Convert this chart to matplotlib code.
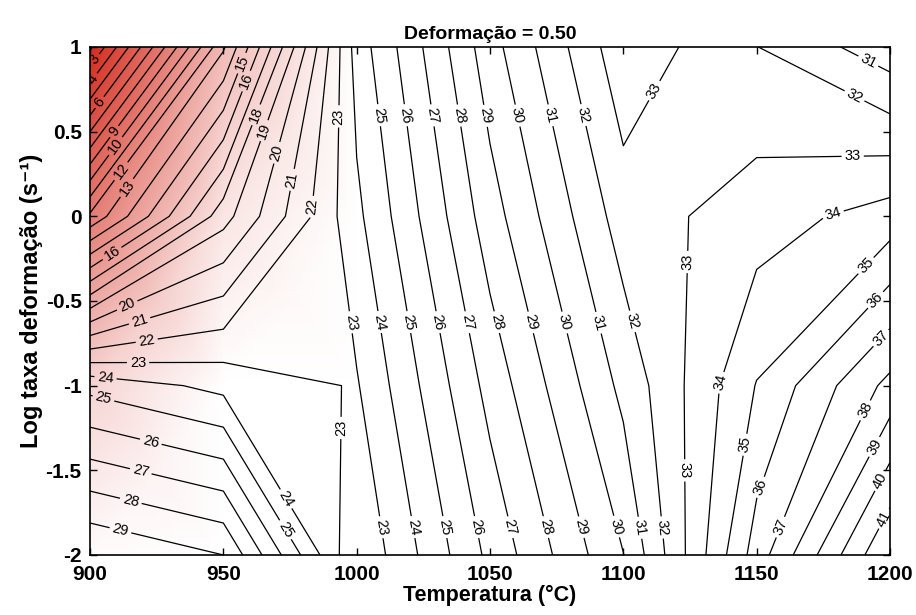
import numpy as np
import matplotlib
matplotlib.use("Agg")
import matplotlib.pyplot as plt
from matplotlib.colors import LinearSegmentedColormap
from matplotlib.ticker import FormatStrFormatter

plt.rcParams['font.family'] = ['Liberation Sans', 'DejaVu Sans']

temperatura = [900, 950, 1000, 1050, 1100, 1150, 1200]
log_taxa = [-2, -1, 0, 1]

# eficiencia de dissipacao (%), uma lista por log taxa
efic_m2 = [30.0, 29.0, 22.1, 26.25, 29.98, 36.47, 42.05]
efic_m1 = [24.7, 23.7, 22.91, 27.35, 31.28, 35.05, 38.3]
efic_0 = [12.2, 18.6, 23.76, 28.55, 32.5, 33.52, 34.45]
efic_1 = [1.8, 12.85, 24.45, 29.6, 33.7, 32.02, 30.4]

# regiao de instabilidade (intensidade do vermelho)
inst_m2 = [0.02, 0.0, 0.0, 0.0, 0.0, 0.0, 0.0]
inst_m1 = [0.2, 0.0, 0.0, 0.0, 0.0, 0.0, 0.0]
inst_0 = [0.62, 0.12, 0.0, 0.0, 0.0, 0.0, 0.0]
inst_1 = [1.0, 0.32, 0.0, 0.0, 0.0, 0.0, 0.0]

niveis = list(range(2, 43))

# onde ficam os rotulos das curvas (aprox. como no original)
pos_rotulos = [
    (956, 0.91), (960, 0.79), (963.8, 0.59), (964.6, 0.51), (971.3, 0.37),
    (977.7, 0.21), (983.7, 0.055),
    (993.8, 0.59), (1004.7, 0.59), (1015, 0.59), (1025.7, 0.59), (1036.3, 0.59),
    (1047, 0.59), (1058.8, 0.59), (1070.8, 0.59), (1082.8, 0.59),
    (1113, 0.73), (1191, 0.89), (1186, 0.69), (1186, 0.36), (1176, 0.155),
    (1124.5, -0.27), (1191.6, -0.3), (1195, -0.5), (1196, -0.71),
    (1137, -0.985), (1190, -1.14), (1194, -1.36), (1196, -1.56), (1197, -1.78),
    (1146, -1.35), (1151.5, -1.6), (1158, -1.83), (1124.5, -1.5),
    (1098, -1.83), (1106, -1.84), (1113, -1.84),
    (1007.7, -1.84), (1019.4, -1.84), (1031.4, -1.84), (1043.4, -1.84),
    (1056.5, -1.84), (1069.7, -1.84), (1083.2, -1.84),
    (995.7, -0.63), (1006.2, -0.63), (1017.5, -0.63), (1028.8, -0.63),
    (1040, -0.63), (1051.3, -0.63), (1064.4, -0.63), (1077.2, -0.63),
    (1090.3, -0.63), (1103.5, -0.62), (995.7, -1.25),
    (971.3, -1.69), (971.3, -1.87),
    (905.6, -0.985), (904.5, -1.11), (922.5, -1.35), (918.8, -1.52),
    (915, -1.7), (911, -1.88), (918, -0.87), (921.4, -0.75), (918.8, -0.63),
    (914.3, -0.54), (908.3, -0.22),
    (915, 0.155), (911.3, 0.27), (910, 0.41), (908.3, 0.51),
    (903, 0.68), (902, 0.8), (901.5, 0.93),
]

T, L = np.meshgrid(temperatura, log_taxa)
Z = np.array([efic_m2, efic_m1, efic_0, efic_1])
I = np.array([inst_m2, inst_m1, inst_0, inst_1])

fig = plt.figure(figsize=(9.16, 6.15), dpi=100)
ax = fig.add_axes([0.0983, 0.0976, 0.8733, 0.826])

vermelho = LinearSegmentedColormap.from_list('inst', ['#ffffff', '#d42a1c'])
ax.pcolormesh(T, L, I, shading='gouraud', cmap=vermelho, vmin=0, vmax=1, zorder=0)

cs = ax.contour(T, L, Z, levels=niveis, colors='black', linewidths=0.9, zorder=2)
ax.clabel(cs, fmt='%d', fontsize=10.5, inline=True, inline_spacing=3,
          manual=pos_rotulos)

ax.set_xlim(900, 1200)
ax.set_ylim(-2, 1)
ax.set_xticks(temperatura)
ax.set_yticks([-2, -1.5, -1, -0.5, 0, 0.5, 1])
ax.yaxis.set_major_formatter(FormatStrFormatter('%g'))
ax.tick_params(direction='in', top=True, right=True, length=5, width=1,
               labelsize=15)
ax.tick_params(axis='x', pad=7)
ax.tick_params(axis='y', pad=6)
for t in ax.get_xticklabels() + ax.get_yticklabels():
    t.set_fontweight('bold')
for s in ax.spines.values():
    s.set_linewidth(1.2)

ax.set_xlabel('Temperatura (°C)', fontsize=15.5, fontweight='bold', labelpad=1)
ax.set_ylabel('Log taxa deformação (s⁻¹)', fontsize=17, fontweight='bold',
              labelpad=2)
ax.set_title('Deformação = 0.50', fontsize=14, fontweight='bold', pad=6)

fig.savefig('out.png', dpi=100)
